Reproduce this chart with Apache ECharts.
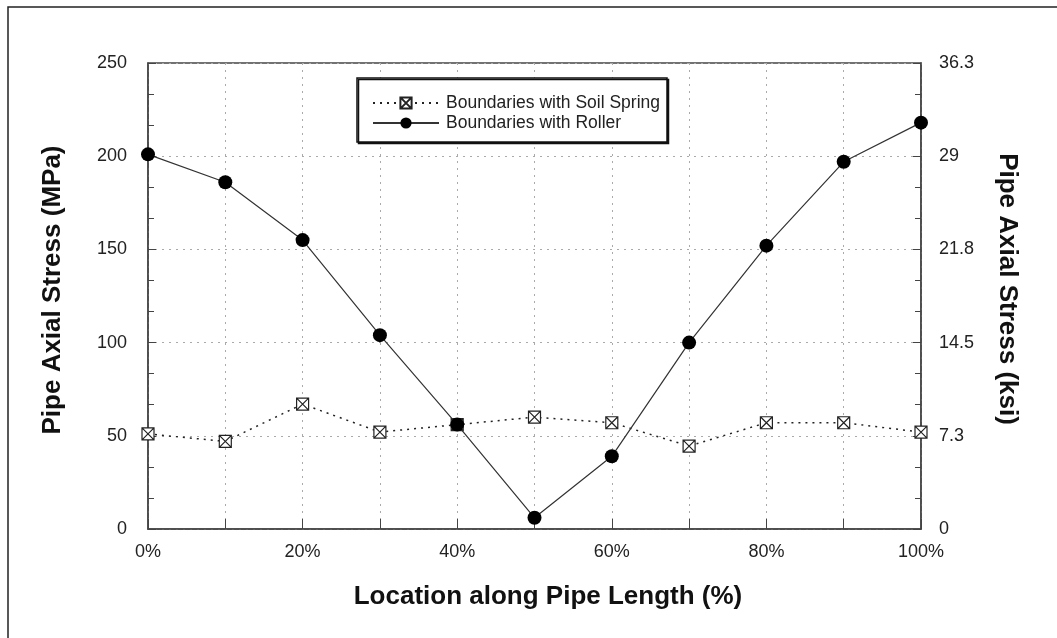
<!DOCTYPE html>
<html>
<head>
<meta charset="utf-8">
<script src="https://cdn.jsdelivr.net/npm/echarts@6/dist/echarts.min.js"></script>
<style>
html,body{margin:0;padding:0;background:#fff;}
#c{width:1057px;height:638px;}
</style>
</head>
<body>
<div id="c"></div>
<script>
// Data
const locations = [0, 10, 20, 30, 40, 50, 60, 70, 80, 90, 100];
const soilSpring = [51, 47, 67, 52, 56, 60, 57, 44.5, 57, 57, 52];
const roller = [201, 186, 155, 104, 56, 6, 39, 100, 152, 197, 218];
const mpaTicks = [0, 50, 100, 150, 200, 250];
const ksiLabels = ['0', '7.3', '14.5', '21.8', '29', '36.3'];
const seriesNames = ['Boundaries with Soil Spring', 'Boundaries with Roller'];

const font = 'Liberation Sans, Arial, sans-serif';
const boxX = 'path://M0,0H10V10H0Z M0,0L10,10 M10,0L0,10';

const chart = echarts.init(document.getElementById('c'), null, {renderer: 'canvas'});
chart.setOption({
  backgroundColor: '#fff',
  animation: false,
  grid: {left: 148, right: 136, top: 63, bottom: 109, show: true, borderColor: '#444', borderWidth: 1.5, backgroundColor: 'transparent'},
  graphic: [
    {type: 'rect', shape: {x: 8, y: 7, width: 1200, height: 800}, style: {fill: 'none', stroke: '#222', lineWidth: 1.5}, z: 0, silent: true},
    {type: 'text', x: 548, y: 597, style: {text: 'Location along Pipe Length (%)', font: 'bold 26px ' + font, fill: '#111', align: 'center', verticalAlign: 'middle'}},
    {type: 'text', x: 53, y: 290, rotation: Math.PI / 2, style: {text: 'Pipe Axial Stress (MPa)', font: 'bold 26px ' + font, fill: '#111', align: 'center', verticalAlign: 'middle'}},
    {type: 'text', x: 1007, y: 289, rotation: -Math.PI / 2, style: {text: 'Pipe Axial Stress (ksi)', font: 'bold 26px ' + font, fill: '#111', align: 'center', verticalAlign: 'middle'}}
  ],
  legend: {
    orient: 'vertical', left: 357, top: 78, align: 'left',
    padding: [16, 7, 10, 15], itemGap: 2, itemWidth: 66, itemHeight: 14,
    backgroundColor: '#fff', borderColor: '#111', borderWidth: 1.5,
    shadowColor: '#111', shadowOffsetX: 1.5, shadowOffsetY: 1.5, shadowBlur: 0,
    textStyle: {fontFamily: font, fontSize: 17.5, color: '#222', padding: [0, 0, 0, 2]},
    data: seriesNames
  },
  xAxis: {
    type: 'value', min: 0, max: 100, interval: 10,
    axisLine: {show: true, lineStyle: {color: '#444', width: 1.5}},
    axisTick: {show: true, inside: true, length: 10, lineStyle: {color: '#444'}},
    axisLabel: {margin: 14, fontFamily: font, fontSize: 18, color: '#222',
      formatter: v => (v % 20 === 0 ? v + '%' : '')},
    splitLine: {show: true, lineStyle: {color: '#aaa', type: [2, 5], width: 1}}
  },
  yAxis: [
    {
      type: 'value', min: mpaTicks[0], max: mpaTicks[mpaTicks.length - 1], interval: 50, position: 'left',
      axisLine: {show: true, lineStyle: {color: '#444', width: 1.5}},
      axisTick: {show: true, inside: true, length: 8, lineStyle: {color: '#444'}},
      minorTick: {show: true, splitNumber: 3, length: 6, lineStyle: {color: '#444'}},
      axisLabel: {margin: 21, fontFamily: font, fontSize: 18, color: '#222'},
      splitLine: {show: true, lineStyle: {color: '#aaa', type: [2, 5], width: 1}}
    },
    {
      type: 'value', min: mpaTicks[0], max: mpaTicks[mpaTicks.length - 1], interval: 50, position: 'right',
      axisLine: {show: true, lineStyle: {color: '#444', width: 1.5}},
      axisTick: {show: true, inside: true, length: 8, lineStyle: {color: '#444'}},
      minorTick: {show: true, splitNumber: 3, length: 6, lineStyle: {color: '#444'}},
      axisLabel: {margin: 18, fontFamily: font, fontSize: 18, color: '#222',
        formatter: v => ksiLabels[mpaTicks.indexOf(v)] ?? ''},
      splitLine: {show: false}
    }
  ],
  series: [
    {
      name: seriesNames[0], type: 'line', yAxisIndex: 0,
      data: locations.map((x, i) => [x, soilSpring[i]]),
      symbol: boxX, symbolSize: 12,
      lineStyle: {color: '#222', width: 1.5, type: [2, 5]},
      itemStyle: {color: '#fff', borderColor: '#222', borderWidth: 1.2},
      z: 3
    },
    {
      name: seriesNames[1], type: 'line', yAxisIndex: 0,
      data: locations.map((x, i) => [x, roller[i]]),
      symbol: 'circle', symbolSize: 14,
      lineStyle: {color: '#333', width: 1.2, type: 'solid'},
      itemStyle: {color: '#000', borderColor: '#000', borderWidth: 0},
      z: 4
    }
  ]
});
</script>
</body>
</html>
